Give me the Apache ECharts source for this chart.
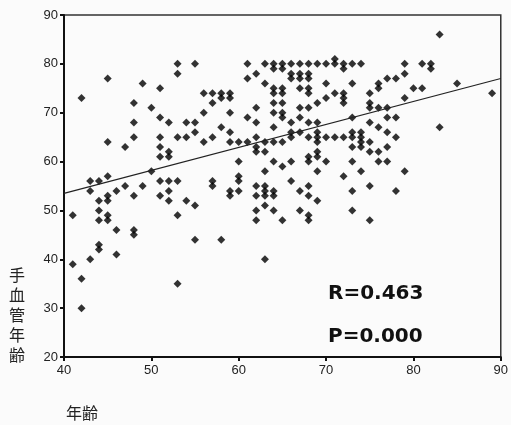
<!DOCTYPE html>
<html>
<head>
<meta charset="utf-8">
<script src="https://cdn.jsdelivr.net/npm/echarts@6/dist/echarts.min.js"></script>
<style>
  html, body { margin: 0; padding: 0; background: #fbfbfb; }
  #chart { width: 511px; height: 425px; }
</style>
</head>
<body>
<div id="chart"></div>
<script>
// ages (x) and the hand vessel ages read at each age (y)
const ages = [41, 42, 43, 44, 45, 46, 47, 48, 49, 50, 51, 52, 53, 54, 55, 56, 57, 58, 59, 60,
  61, 62, 63, 64, 65, 66, 67, 68, 69, 70, 71, 72, 73, 74, 75, 76, 77, 78, 79, 80, 81, 82, 83, 85, 89];
const vesselAges = [
  [49, 39],
  [73, 36, 30],
  [56, 54, 40],
  [56, 52, 50, 48, 43, 42],
  [77, 64, 57, 53, 52, 49, 48],
  [54, 46, 41],
  [63, 55],
  [72, 68, 65, 53, 46, 45],
  [76, 55],
  [71, 58],
  [75, 69, 65, 63, 61, 56, 53],
  [68, 62, 61, 56, 54, 52],
  [80, 78, 65, 56, 49, 35],
  [68, 65, 52],
  [80, 68, 66, 51, 44],
  [74, 70, 64],
  [74, 72, 65, 56, 55],
  [74, 73, 67, 44],
  [74, 73, 70, 66, 64, 54, 53],
  [64, 60, 57, 56, 54],
  [80, 77, 69, 64],
  [78, 71, 68, 65, 63, 62, 55, 53, 50, 48],
  [80, 76, 64, 62, 58, 55, 54, 53, 51, 40],
  [80, 79, 75, 74, 72, 70, 67, 64, 60, 54, 53, 50],
  [80, 79, 75, 74, 72, 70, 69, 64, 59, 48],
  [80, 78, 77, 68, 66, 65, 60, 56],
  [80, 78, 77, 75, 71, 69, 66, 54, 50],
  [80, 78, 77, 75, 74, 71, 68, 65, 61, 60, 55, 53, 49, 48],
  [80, 72, 68, 66, 65, 64, 62, 61, 58, 52],
  [80, 76, 73, 65, 60],
  [81, 80, 74, 65],
  [80, 79, 74, 73, 72, 65, 57],
  [80, 76, 69, 66, 65, 63, 60, 54, 50],
  [80, 66, 65, 64, 63, 58],
  [74, 72, 71, 68, 64, 62, 55, 48],
  [76, 75, 71, 67, 62, 60],
  [77, 71, 69, 66, 63, 60],
  [77, 69, 65, 54],
  [80, 78, 73, 58],
  [75],
  [80, 75],
  [80, 79],
  [86, 67],
  [76],
  [74]
];
// fitted line end points
const fitAges = [40, 90];
const fitVessel = [53.5, 77.0];
const xTicks = [40, 50, 60, 70, 80, 90];
const yTicks = [20, 30, 40, 50, 60, 70, 80, 90];
const statR = "R=0.463";
const statP = "P=0.000";

const points = [];
ages.forEach((a, i) => {
  vesselAges[i].forEach((v) => points.push([a, v]));
});

const axisColor = "#111";
const chart = echarts.init(document.getElementById("chart"));
chart.setOption({
  backgroundColor: "#fbfbfb",
  animation: false,
  grid: {
    left: 64,
    right: 3,
    top: 15,
    bottom: 68,
    show: true,
    borderColor: "#333",
    borderWidth: 1.5,
  },
  xAxis: {
    type: "value",
    min: xTicks[0],
    max: xTicks[xTicks.length - 1],
    interval: 10,
    splitLine: { show: false },
    axisLine: { lineStyle: { color: axisColor, width: 2 } },
    axisTick: { show: true, length: 4, lineStyle: { color: axisColor, width: 2 } },
    axisLabel: {
      margin: 7,
      color: "#222",
      fontSize: 13,
      fontFamily: "Liberation Sans",
      showMaxLabel: true,
    },
  },
  yAxis: {
    type: "value",
    min: yTicks[0],
    max: yTicks[yTicks.length - 1],
    interval: 10,
    splitLine: { show: false },
    axisLine: { lineStyle: { color: axisColor, width: 2 } },
    axisTick: { show: true, length: 4, lineStyle: { color: axisColor, width: 2 } },
    axisLabel: {
      margin: 6,
      color: "#222",
      fontSize: 13,
      fontFamily: "Liberation Sans",
    },
  },
  series: [
    {
      type: "scatter",
      data: points,
      symbol: "diamond",
      symbolSize: 8,
      itemStyle: { color: "#000" },
    },
    {
      type: "line",
      data: fitAges.map((a, i) => [a, fitVessel[i]]),
      symbol: "none",
      lineStyle: { color: "#222", width: 1.2 },
    },
  ],
  graphic: [
    {
      type: "text",
      left: 328,
      top: 284,
      style: { text: statR, font: 'bold 20px "DejaVu Sans"', fill: "#111" },
    },
    {
      type: "text",
      left: 328,
      top: 327,
      style: { text: statP, font: 'bold 20px "DejaVu Sans"', fill: "#111" },
    },
    {
      type: "text",
      left: 9,
      top: 265,
      style: {
        text: "手\n血\n管\n年\n齢",
        font: '16px "Noto Sans CJK JP"',
        lineHeight: 20,
        fill: "#222",
      },
    },
    {
      type: "text",
      left: 66,
      top: 405,
      style: { text: "年齢", font: '16px "Noto Sans CJK JP"', fill: "#222" },
    },
  ],
});
</script>
</body>
</html>
